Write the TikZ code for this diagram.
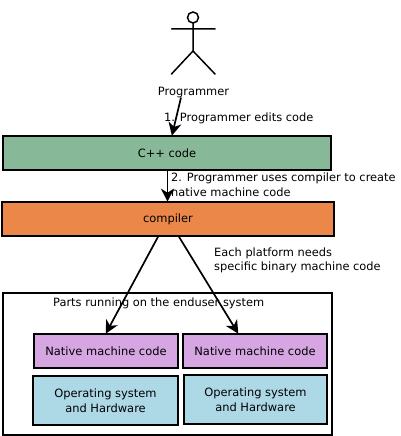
\documentclass[tikz,border=0pt]{standalone}
\usepackage{fontspec}
\setmainfont{DejaVu Sans}
\usetikzlibrary{arrows.meta}
\definecolor{cgreen}{HTML}{87B897}
\definecolor{corange}{HTML}{EB8849}
\definecolor{cpurple}{HTML}{D5A6E1}
\definecolor{cblue}{HTML}{ADD8E6}
\tikzset{
  box/.style={draw=black,line width=1.6pt,minimum width=#1,inner sep=0pt,align=center,font=\fontsize{11.45}{14.5}\selectfont},
  lbl/.style={inner sep=0pt,anchor=west,align=left,font=\fontsize{11.4}{14.5}\selectfont},
  conn/.style={line width=1.7pt,-{Stealth[length=13pt,width=13pt,inset=4pt]},shorten >=-0.5pt},
  stick/.style={line width=1.5pt,line cap=round}
}
\begin{document}
\begin{tikzpicture}[x=1pt,y=-1pt]
\useasboundingbox (0,0) rectangle (400,436);
\fill[white] (0,0) rectangle (400,436);
\node[box=329pt,minimum height=142pt] (outer) at (167.5,364) {};
\node[box=328pt,minimum height=34pt,fill=cgreen] (cpp) at (167,153) {C++ code};
\node[box=332pt,minimum height=34pt,fill=corange] (comp) at (168,219) {compiler};
\node[box=144pt,minimum height=34pt,fill=cpurple] (nmc1) at (106,351) {Native machine code};
\node[box=144pt,minimum height=34pt,fill=cpurple] (nmc2) at (255,351) {Native machine code};
\node[box=145pt,minimum height=49pt,fill=cblue] (os1) at (105.5,400.5) {Operating system\\and Hardware};
\node[box=143pt,minimum height=49pt,fill=cblue] (os2) at (255.5,399.5) {Operating system\\and Hardware};
% stick figure
\draw[stick] (193,17.5) circle (5.5);
\draw[stick] (193,23) -- (193,51) (171.5,29) -- (215,29) (171.5,74) -- (193,51) -- (215,74);
\node[inner sep=0pt,font=\fontsize{11.45}{14}\selectfont] (prog) at (193.5,93) {Programmer};
% connectors
\draw[conn] ([xshift=-12.5pt,yshift=1pt]prog.south) -- ([xshift=5pt]cpp.north);
\draw[conn] ([xshift=0.5pt]cpp.south) -- ([xshift=-0.5pt]comp.north);
\draw[conn] ([xshift=-10pt]comp.south) -- ([xshift=0pt]nmc1.north);
\draw[conn] ([xshift=11pt]comp.south) -- ([xshift=-17pt]nmc2.north);
% labels
\node[lbl] (l1) at (164,118) {1. Programmer edits code};
\node[lbl] (l2) at (171,184.5) {2. Programmer uses compiler to create\\native machine code};
\node[lbl] (l3) at (214,260.5) {Each platform needs\\specific binary machine code};
\node[lbl] (l4) at (53,303) {Parts running on the enduser system};
\end{tikzpicture}
\end{document}
